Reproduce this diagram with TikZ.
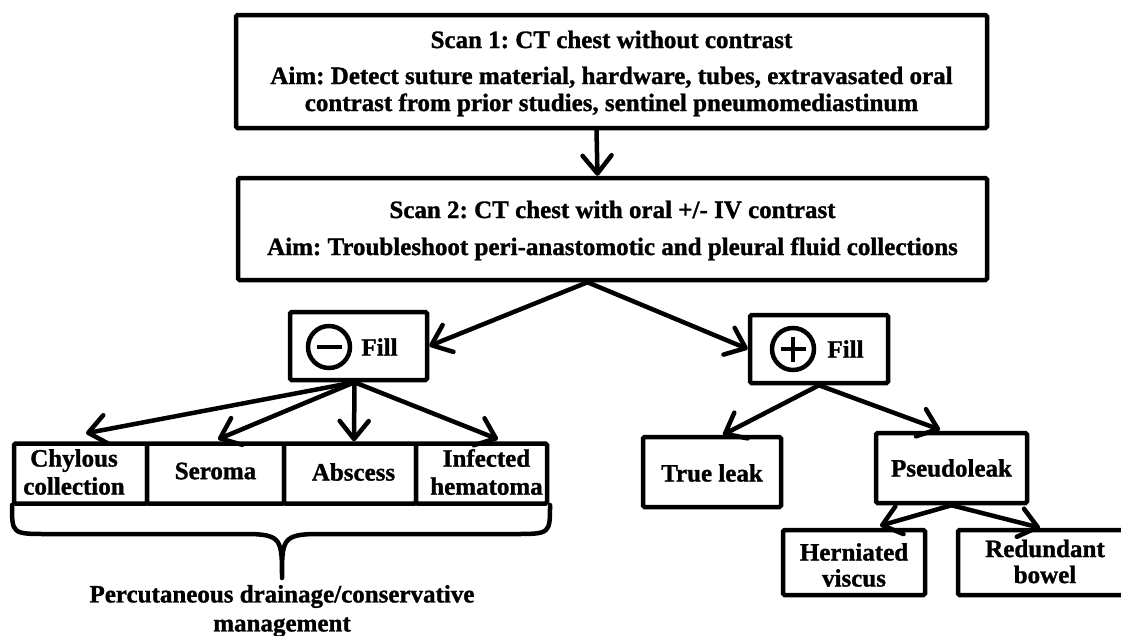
\documentclass[tikz,border=0pt]{standalone}
\usepackage{fontspec}
\setmainfont{Liberation Serif}[BoldFeatures={FakeBold=1.2}]
\usetikzlibrary{arrows.meta,calc,shadows}
\begin{document}
\frenchspacing
\begin{tikzpicture}[x=1pt,y=-1pt,
  box/.style={draw,fill=white,line width=4.5pt,rounded corners=1.5pt,minimum width=#1,inner sep=0pt,
    drop shadow={opacity=0.25,shadow xshift=1.5pt,shadow yshift=-1.5pt}},
  txt/.style={font=\fontsize{25}{27}\selectfont\bfseries,align=center,inner sep=0pt},
  arr/.style={line width=4.5pt,line cap=round,-{Straight Barb[length=18pt,width=29pt,round]}},
  sign/.style={draw,circle,line width=4.5pt,minimum size=42pt,inner sep=0pt},
  brace/.style={line width=4.5pt,line cap=round,line join=round}]
\useasboundingbox (0,0) rectangle (1121,635);
% main boxes
\node[box=751pt,minimum height=113pt] (scan1) at (611.5,71.5) {};
\node[box=749pt,minimum height=102pt] (scan2) at (612.5,229) {};
\node[txt] (t1) at (611.5,73.5) {Scan 1: CT chest without contrast\\[9pt]Aim: Detect suture material, hardware, tubes, extravasated oral\\contrast from prior studies, sentinel pneumomediastinum};
\node[txt] (t2) at (612.5,230.5) {Scan 2: CT chest with oral +/- IV contrast\\[10pt]Aim: Troubleshoot peri-anastomotic and pleural fluid collections};
% fill boxes
\node[box=137pt,minimum height=68pt] (minus) at (358.5,346) {};
\node[box=138pt,minimum height=68pt] (plus) at (819,349) {};
\node[sign] (mc) at (329,347) {};
\node[sign] (pc) at (793,349) {};
\draw[line width=4.5pt] ($(mc)+(-12.5,0)$) -- ($(mc)+(12.5,0)$);
\draw[line width=4.5pt] ($(pc)+(-12.5,0)$) -- ($(pc)+(12.5,0)$);
\draw[line width=4.5pt] ($(pc)+(0,-12.5)$) -- ($(pc)+(0,12.5)$);
\node[txt] (mf) at (379.5,347) {Fill};
\node[txt] (pf) at (845.5,349) {Fill};
% left boxes
\node[box=133pt,minimum height=60pt] (chyl) at (80.5,473.5) {};
\node[box=137pt,minimum height=60pt] (seroma) at (215.5,473.5) {};
\node[box=132pt,minimum height=60pt] (absc) at (350,473.5) {};
\node[box=131pt,minimum height=60pt] (infect) at (481.5,473.5) {};
\node[txt,font=\fontsize{25}{28}\selectfont\bfseries] (tc) at (74,472) {Chylous\\collection};
\node[txt] (ts) at (215.5,471) {Seroma};
\node[txt] (ta) at (353.5,472) {Abscess};
\node[txt,font=\fontsize{25}{28}\selectfont\bfseries] (ti) at (486.5,472) {Infected\\hematoma};
% right boxes
\node[box=138pt,minimum height=70pt] (trueleak) at (712,472) {};
\node[box=151pt,minimum height=70pt] (pseudo) at (951.5,468) {};
\node[box=142pt,minimum height=65pt] (hern) at (854,562.5) {};
\node[box=184pt,minimum height=65pt] (redund) at (1050,562.5) {};
\node[txt] (tt) at (712,473) {True leak};
\node[txt] (tp) at (951.5,468) {Pseudoleak};
\node[txt,font=\fontsize{25}{26}\selectfont\bfseries] (th) at (854,565) {Herniated\\viscus};
\node[txt,font=\fontsize{25}{26}\selectfont\bfseries] (tr) at (1045,561.5) {Redundant\\bowel};
% brace and label
\draw[brace] (12,505) .. controls (12,534) and (12,534) .. (48,534) -- (246,534)
  .. controls (282,534) and (282,540) .. (282,578)
  .. controls (282,540) and (282,534) .. (318,534) -- (514,534)
  .. controls (550,534) and (550,534) .. (550,505);
\node[txt,font=\fontsize{25}{29}\selectfont\bfseries] (tpd) at (282,611) {Percutaneous drainage/conservative\\management};
% connectors
\draw[arr] ($(scan1.south)+(-15,0)$) -- ($(scan2.north)+(-15,0)$);
\draw[arr] ($(scan2.south)+(-25,0)$) -- (minus.east);
\draw[arr] ($(scan2.south)+(-25,0)$) -- (plus.west);
\draw[arr] ($(minus.south)+(-4,0)$) -- ($(chyl.north)+(5.5,-8)$);
\draw[arr] ($(minus.south)+(-4,0)$) -- ($(seroma.north)+(2.5,-2)$);
\draw[arr] ($(minus.south)+(-4,0)$) -- ($(absc.north)+(4,0)$);
\draw[arr] ($(minus.south)+(-4,0)$) -- ($(infect.north)+(16.5,-2)$);
\draw[arr] (plus.south) -- ($(trueleak.north)+(11,0)$);
\draw[arr] (plus.south) -- ($(pseudo.north)+(-11.5,-1)$);
\draw[arr] (pseudo.south) -- ($(hern.north)+(26,-2)$);
\draw[arr] (pseudo.south) -- ($(redund.north)+(-10,0)$);
\end{tikzpicture}
\end{document}
